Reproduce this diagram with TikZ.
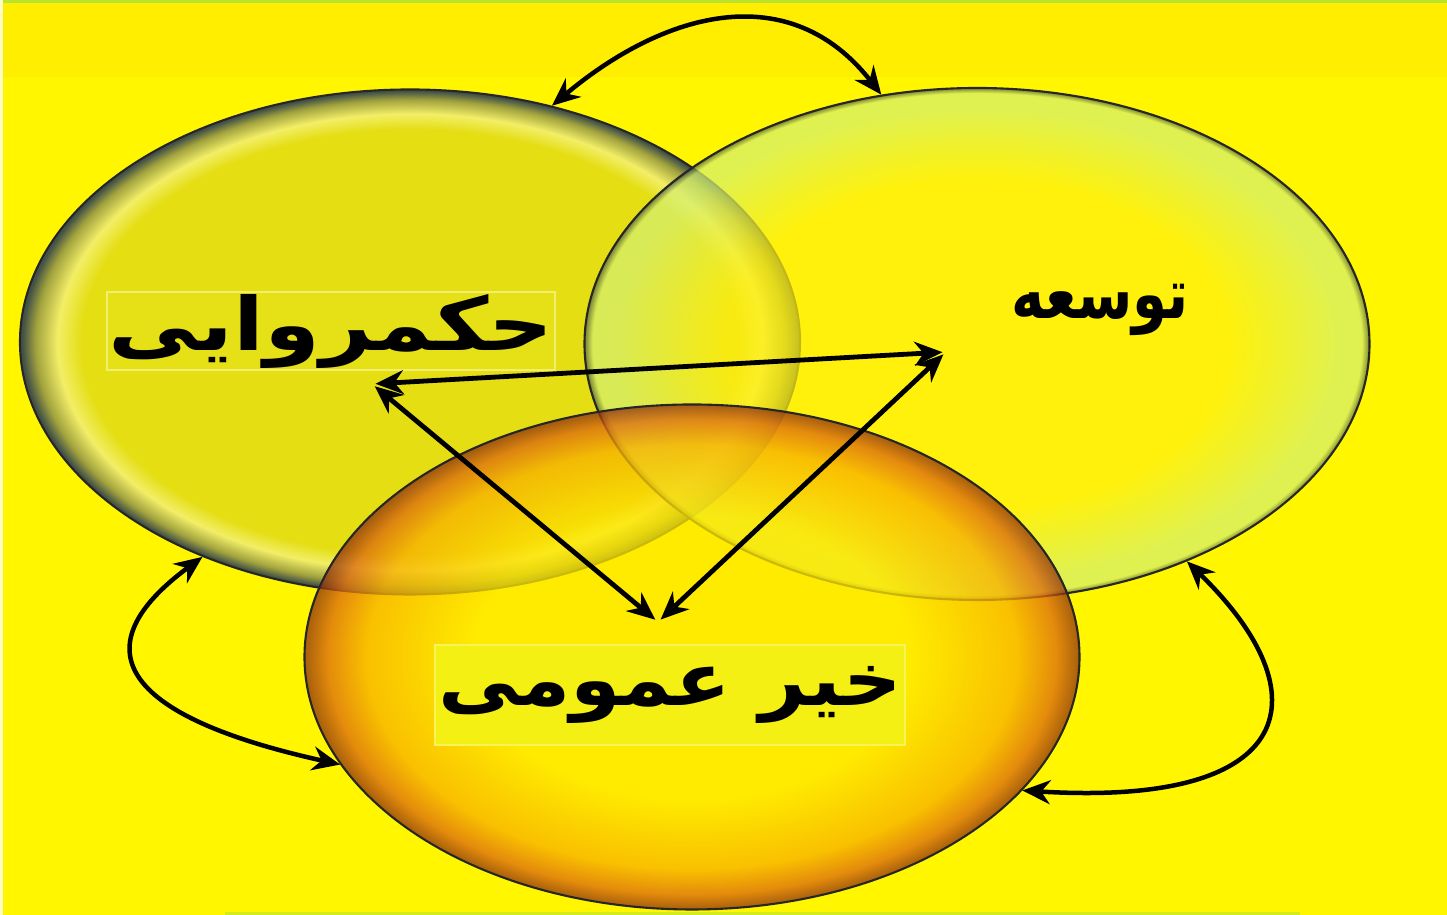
\documentclass[tikz,border=0pt]{standalone}
\usepackage{fontspec}
\newfontfamily\arabicfont[Script=Arabic]{DejaVu Sans}
\TeXXeTstate=1
\usetikzlibrary{shapes.geometric,arrows.meta}

\definecolor{bgyellow}{HTML}{FFF600}
\definecolor{topband}{HTML}{FFEE00}
\definecolor{rimgreen}{HTML}{B8E430}
\definecolor{govin}{HTML}{E2DC14}
\definecolor{govhi}{HTML}{F2EE70}
\definecolor{govmid}{HTML}{9A9C44}
\definecolor{govedge}{HTML}{34444C}
\definecolor{devin}{HTML}{FFF010}
\definecolor{devlt}{HTML}{D4F070}
\definecolor{devedge}{HTML}{4C5C40}
\definecolor{pubin}{HTML}{FFE800}
\definecolor{pubmid}{HTML}{F8B000}
\definecolor{pubdark}{HTML}{DC6A10}
\definecolor{pubedge}{HTML}{8C3010}
\definecolor{govbox}{HTML}{E6E016}
\definecolor{pubbox}{HTML}{F4F014}

% Soft rims for the three sets
\pgfdeclareradialshading{govshade}{\pgfpoint{0bp}{0bp}}{color(0bp)=(govin); color(21bp)=(govin); color(22.6bp)=(govhi); color(24bp)=(govmid); color(24.85bp)=(govedge); color(50bp)=(govedge)}
\pgfdeclareradialshading{devshade}{\pgfpoint{0bp}{0bp}}{color(0bp)=(devin); color(16bp)=(devin); color(23bp)=(devlt); color(24.5bp)=(devlt); color(25bp)=(devedge); color(50bp)=(devedge)}
\pgfdeclareradialshading{pubshade}{\pgfpoint{0bp}{0bp}}{color(0bp)=(pubin); color(14bp)=(pubin); color(21bp)=(pubmid); color(23.5bp)=(pubdark); color(25bp)=(pubedge); color(50bp)=(pubedge)}

\begin{document}
\begin{tikzpicture}[
  x=0.1mm,y=0.1mm,
  >={Stealth[length=2.8mm,width=2.4mm]},
  blob/.style={ellipse, inner sep=0pt, draw=black!85, line width=0.6pt},
  tag/.style={font=\arabicfont\bfseries\fontsize{21}{26}\selectfont, text=black, inner sep=0pt},
  cyclearrow/.style={<->, line width=0.45mm, draw=black},
  innerarrow/.style={<->, line width=0.48mm, draw=black, shorten <=1pt, shorten >=1pt}
]
\useasboundingbox (0,0) rectangle (1447,915);

% Background
\fill[bgyellow] (0,0) rectangle (1447,915);
\fill[topband] (0,838) rectangle (1447,912);
\fill[rimgreen] (0,912) rectangle (1447,915);
\fill[rimgreen!60!bgyellow] (225,0) rectangle (1300,3);
\fill[yellow!25] (0,0) rectangle (3,915);

% The three sets
\node[blob, shading=govshade, fill opacity=0.92, minimum width=78mm, minimum height=50.5mm] (gov) at (410,573) {};
\node[blob, shading=devshade, fill opacity=0.72, minimum width=78.5mm, minimum height=51.2mm] (dev) at (977,571) {};
\node[blob, shading=pubshade, fill opacity=0.76, minimum width=77.5mm, minimum height=50.5mm] (pub) at (692,258) {};

% Labels
\node[tag, fill=govbox, draw=govhi, line width=0.3pt, minimum width=44.8mm, minimum height=7.8mm] (govtext) at (331,584) {\scalebox{1.22}[1]{\beginR حکمروایی\endR}};
\node[tag, font=\arabicfont\bfseries\fontsize{20}{24}\selectfont] (devtext) at (1100,605) {\scalebox{0.8}[1]{\beginR توسعه\endR}};
\node[tag, fill=pubbox, draw=pubbox!70!white, line width=0.3pt, minimum width=47mm, minimum height=10mm] (pubtext) at (670,220) {\scalebox{1.1}[1]{\beginR خیر عمومی\endR}};

% Corners of the inner triangle
\coordinate (tA) at (372,531);
\coordinate (tB) at (946,563);
\coordinate (tC) at (658,293);

% Inner triangle of relations
\draw[innerarrow] (tA) -- (tB);
\draw[innerarrow] (tA) -- (tC);
\draw[innerarrow] (tB) -- (tC);

% Outer arrows between the sets
\draw[cyclearrow] (gov.59) to[out=40, in=128, looseness=1.15] (dev.111);
\draw[cyclearrow] (gov.226) .. controls +(-122,-90) and +(-222,49) .. (pub.197);
\draw[cyclearrow] (dev.314) .. controls +(137,-133) and +(277,-17) .. (pub.338);

\end{tikzpicture}
\end{document}
